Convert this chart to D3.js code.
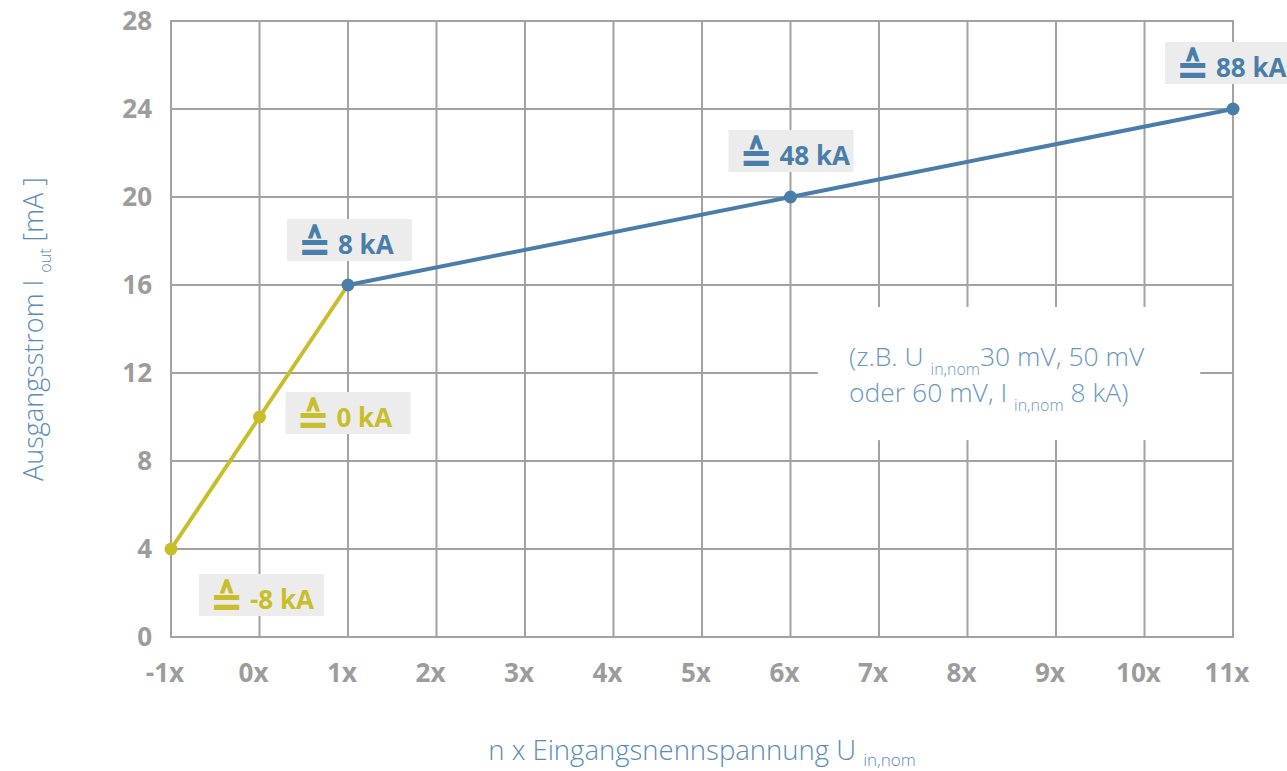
<!DOCTYPE html>
<html>
<head>
<meta charset="utf-8">
<script src="https://cdn.jsdelivr.net/npm/d3@7"></script>
<style>
  html, body { margin: 0; padding: 0; background: #fff; }
  svg { display: block; font-family: "Open Sans", "Noto Sans", sans-serif; }
</style>
</head>
<body>
<div id="chart"></div>
<script>
// data
const xTicks = [-1, 0, 1, 2, 3, 4, 5, 6, 7, 8, 9, 10, 11];
const yTicks = [0, 4, 8, 12, 16, 20, 24, 28];

const lowX = [-1, 0, 1];
const lowY = [4, 10, 16];
const highX = [1, 6, 11];
const highY = [16, 20, 24];

const labelText = ["-8 kA", "0 kA", "8 kA", "48 kA", "88 kA"];
const labelX = [-1, 0, 1, 6, 11];
const labelY = [4, 10, 16, 20, 24];
const labelSeries = ["low", "low", "high", "high", "high"];

const width = 1287;
const height = 771;

const blue = "#4a7eaa";
const yellow = "#c8bd2a";
const grey = "#a2a2a2";
const tickGrey = "#9c9c9c";
const titleBlue = "#5a8cb8";

const svg = d3.select("#chart")
  .append("svg")
  .attr("width", width)
  .attr("height", height);

const x = d3.scaleLinear().domain([-1, 11]).range([171, 1233]);
const y = d3.scaleLinear().domain([0, 28]).range([637, 21]);

// grid
const grid = svg.append("g");
grid.selectAll("line.v")
  .data(xTicks)
  .join("line")
  .attr("class", "v")
  .attr("x1", d => x(d)).attr("x2", d => x(d))
  .attr("y1", y(28) - 1).attr("y2", y(0) + 1)
  .attr("stroke", grey).attr("stroke-width", 2);
grid.selectAll("line.h")
  .data(yTicks)
  .join("line")
  .attr("class", "h")
  .attr("x1", x(-1) - 1).attr("x2", x(11) + 1)
  .attr("y1", d => y(d)).attr("y2", d => y(d))
  .attr("stroke", grey).attr("stroke-width", 2);

// tick labels
svg.append("g")
  .selectAll("text")
  .data(yTicks)
  .join("text")
  .attr("x", x(-1) - 19)
  .attr("y", d => y(d))
  .attr("dy", "0.36em")
  .attr("text-anchor", "end")
  .attr("font-size", 26)
  .attr("font-weight", 700)
  .attr("fill", tickGrey)
  .text(d => d);

svg.append("g")
  .selectAll("text")
  .data(xTicks)
  .join("text")
  .attr("x", d => x(d) - 6)
  .attr("y", y(0) + 45)
  .attr("text-anchor", "middle")
  .attr("font-size", 26)
  .attr("font-weight", 700)
  .attr("fill", tickGrey)
  .text(d => d + "x");

// note box (white, covers grid)
svg.append("rect")
  .attr("x", x(6.31)).attr("y", y(15))
  .attr("width", x(10.63) - x(6.31))
  .attr("height", y(8.95) - y(15))
  .attr("fill", "#fff");

const note = svg.append("g")
  .attr("font-size", 26.5)
  .attr("font-weight", 300)
  .attr("fill", "#6a97c0");
const l1 = note.append("text").attr("x", 849).attr("y", 366);
l1.append("tspan").text("(z.B. U ");
l1.append("tspan").attr("font-size", 16).attr("dy", 9).text("in,nom");
l1.append("tspan").attr("dy", -9).text("30 mV, 50 mV");
const l2 = note.append("text").attr("x", 849).attr("y", 402);
l2.append("tspan").text("oder 60 mV, I ");
l2.append("tspan").attr("font-size", 16).attr("dy", 9).text("in,nom");
l2.append("tspan").attr("dy", -9).text(" 8 kA)");

// lines
const line = d3.line().x(d => x(d[0])).y(d => y(d[1]));
const low = lowX.map((d, i) => [d, lowY[i]]);
const high = highX.map((d, i) => [d, highY[i]]);

svg.append("path").datum(low)
  .attr("d", line).attr("fill", "none")
  .attr("stroke", yellow).attr("stroke-width", 4);
svg.append("path").datum(high)
  .attr("d", line).attr("fill", "none")
  .attr("stroke", blue).attr("stroke-width", 4);

svg.append("g").selectAll("circle")
  .data(low.slice(0, 2))
  .join("circle")
  .attr("cx", d => x(d[0])).attr("cy", d => y(d[1]))
  .attr("r", 6.5).attr("fill", yellow);
svg.append("g").selectAll("circle")
  .data(high)
  .join("circle")
  .attr("cx", d => x(d[0])).attr("cy", d => y(d[1]))
  .attr("r", 6.5).attr("fill", blue);

// value labels
const boxW = 125, boxH = 42;
const offX = [28, 26, -61, -62, -68];
const offY = [25, -25, -66, -67, -67];

const labels = svg.append("g")
  .selectAll("g")
  .data(labelText)
  .join("g")
  .attr("transform", (d, i) =>
    `translate(${x(labelX[i]) + offX[i]},${y(labelY[i]) + offY[i]})`);

labels.append("rect")
  .attr("width", boxW).attr("height", boxH)
  .attr("fill", "#ececec");

const labelColor = (d, i) => labelSeries[i] === "low" ? yellow : blue;

labels.append("text")
  .attr("transform", "translate(11,42) scale(1,1.1)")
  .attr("font-family", "'Noto Sans CJK JP', 'DejaVu Sans'")
  .attr("font-size", 40)
  .attr("font-weight", 700)
  .attr("fill", labelColor)
  .text("\u2259");

labels.append("text")
  .attr("x", 51)
  .attr("y", 35)
  .attr("font-size", 26)
  .attr("font-weight", 700)
  .attr("fill", labelColor)
  .text(d => d);

// axis titles
const xt = svg.append("text")
  .attr("x", x(5))
  .attr("y", 760)
  .attr("text-anchor", "middle")
  .attr("font-size", 27.5)
  .attr("font-weight", 300)
  .attr("fill", titleBlue);
xt.append("tspan").text("n x Eingangsnennspannung U ");
xt.append("tspan").attr("font-size", 17).attr("dy", 6).text("in,nom");

const yt = svg.append("text")
  .attr("transform", `translate(43,${(y(0) + y(28)) / 2}) rotate(-90)`)
  .attr("text-anchor", "middle")
  .attr("font-size", 27)
  .attr("font-weight", 300)
  .attr("fill", titleBlue);
yt.append("tspan").text("Ausgangsstrom I ");
yt.append("tspan").attr("font-size", 16).attr("dy", 8).text("out");
yt.append("tspan").attr("dy", -8).text(" [mA ]");
</script>
</body>
</html>
